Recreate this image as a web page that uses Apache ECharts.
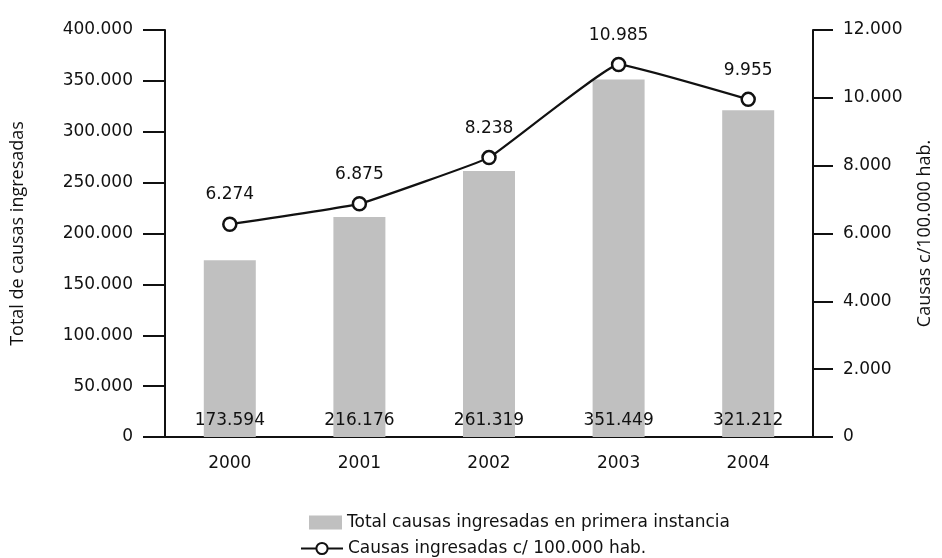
<!DOCTYPE html>
<html>
<head>
<meta charset="utf-8">
<script src="https://cdn.jsdelivr.net/npm/echarts@6/dist/echarts.min.js"></script>
<style>
  html, body { margin: 0; padding: 0; background: #fff; }
  #chart { width: 942px; height: 558px; }
</style>
</head>
<body>
<div id="chart"></div>
<script>
// datos
const years = ['2000', '2001', '2002', '2003', '2004'];
const totalCausas = [173594, 216176, 261319, 351449, 321212];
const causasPorHab = [6274, 6875, 8238, 10985, 9955];
const leftTicks = [0, 400000, 50000];   // min, max, intervalo
const rightTicks = [0, 12000, 2000];

const numFont = 'DejaVu Sans';
const nameFont = 'Open Sans';
const ink = '#111';
const fs = 17;

// separador de miles con punto
function fmt(v) {
  return String(v).replace(/\B(?=(\d{3})+(?!\d))/g, '.');
}

let myChart = echarts.init(document.getElementById('chart'));

myChart.setOption({
  animation: false,
  grid: {
    left: 165,
    right: 129,
    top: 30,
    bottom: 121,
    outerBoundsMode: 'none',
    containLabel: false
  },
  legend: [
    {
      data: [{ name: 'Total causas ingresadas en primera instancia', icon: 'rect' }],
      left: 309,
      top: 514,
      padding: 0,
      itemWidth: 33,
      itemHeight: 14,
      textStyle: { fontFamily: numFont, fontSize: fs, color: ink }
    },
    {
      data: ['Causas ingresadas c/ 100.000 hab.'],
      left: 300,
      top: 540,
      padding: 0,
      itemWidth: 42,
      itemHeight: 14,
      textStyle: { fontFamily: numFont, fontSize: fs, color: ink }
    }
  ],
  xAxis: {
    type: 'category',
    data: years,
    axisLine: { lineStyle: { color: ink, width: 2 } },
    axisTick: { show: false },
    axisLabel: { margin: 18, fontFamily: numFont, fontSize: fs, color: ink }
  },
  yAxis: [
    {
      type: 'value',
      min: leftTicks[0],
      max: leftTicks[1],
      interval: leftTicks[2],
      name: 'Total de causas ingresadas',
      nameLocation: 'middle',
      nameRotate: 90,
      nameGap: 138,
      nameTextStyle: { fontFamily: nameFont, fontSize: 18, color: ink },
      axisLine: { show: true, lineStyle: { color: ink, width: 2 } },
      axisTick: { show: true, length: 22, lineStyle: { color: ink, width: 2 } },
      axisLabel: { margin: 32, fontFamily: numFont, fontSize: fs, color: ink, formatter: fmt },
      splitLine: { show: false }
    },
    {
      type: 'value',
      position: 'right',
      min: rightTicks[0],
      max: rightTicks[1],
      interval: rightTicks[2],
      name: 'Causas c/100.000 hab.',
      nameLocation: 'middle',
      nameRotate: 90,
      nameGap: 103,
      nameTextStyle: { fontFamily: nameFont, fontSize: 18, color: ink },
      axisLine: { show: true, lineStyle: { color: ink, width: 2 } },
      axisTick: { show: true, length: 20, lineStyle: { color: ink, width: 2 } },
      axisLabel: { margin: 30, fontFamily: numFont, fontSize: fs, color: ink, formatter: fmt },
      splitLine: { show: false }
    }
  ],
  series: [
    {
      name: 'Total causas ingresadas en primera instancia',
      type: 'bar',
      yAxisIndex: 0,
      data: totalCausas,
      barWidth: 52,
      itemStyle: { color: '#c0c0c0' },
      label: {
        show: true,
        position: 'insideBottom',
        distance: 8,
        fontFamily: numFont,
        fontSize: fs,
        color: ink,
        formatter: p => fmt(p.value)
      },
      z: 1
    },
    {
      name: 'Causas ingresadas c/ 100.000 hab.',
      type: 'line',
      yAxisIndex: 1,
      data: causasPorHab,
      smooth: 0.08,
      symbol: 'circle',
      symbolSize: 13,
      lineStyle: { color: ink, width: 2.2 },
      itemStyle: { color: '#fff', borderColor: ink, borderWidth: 2.5 },
      label: {
        show: true,
        position: 'top',
        distance: 13,
        fontFamily: numFont,
        fontSize: fs,
        color: ink,
        formatter: p => fmt(p.value)
      },
      z: 3
    }
  ]
});
</script>
</body>
</html>
